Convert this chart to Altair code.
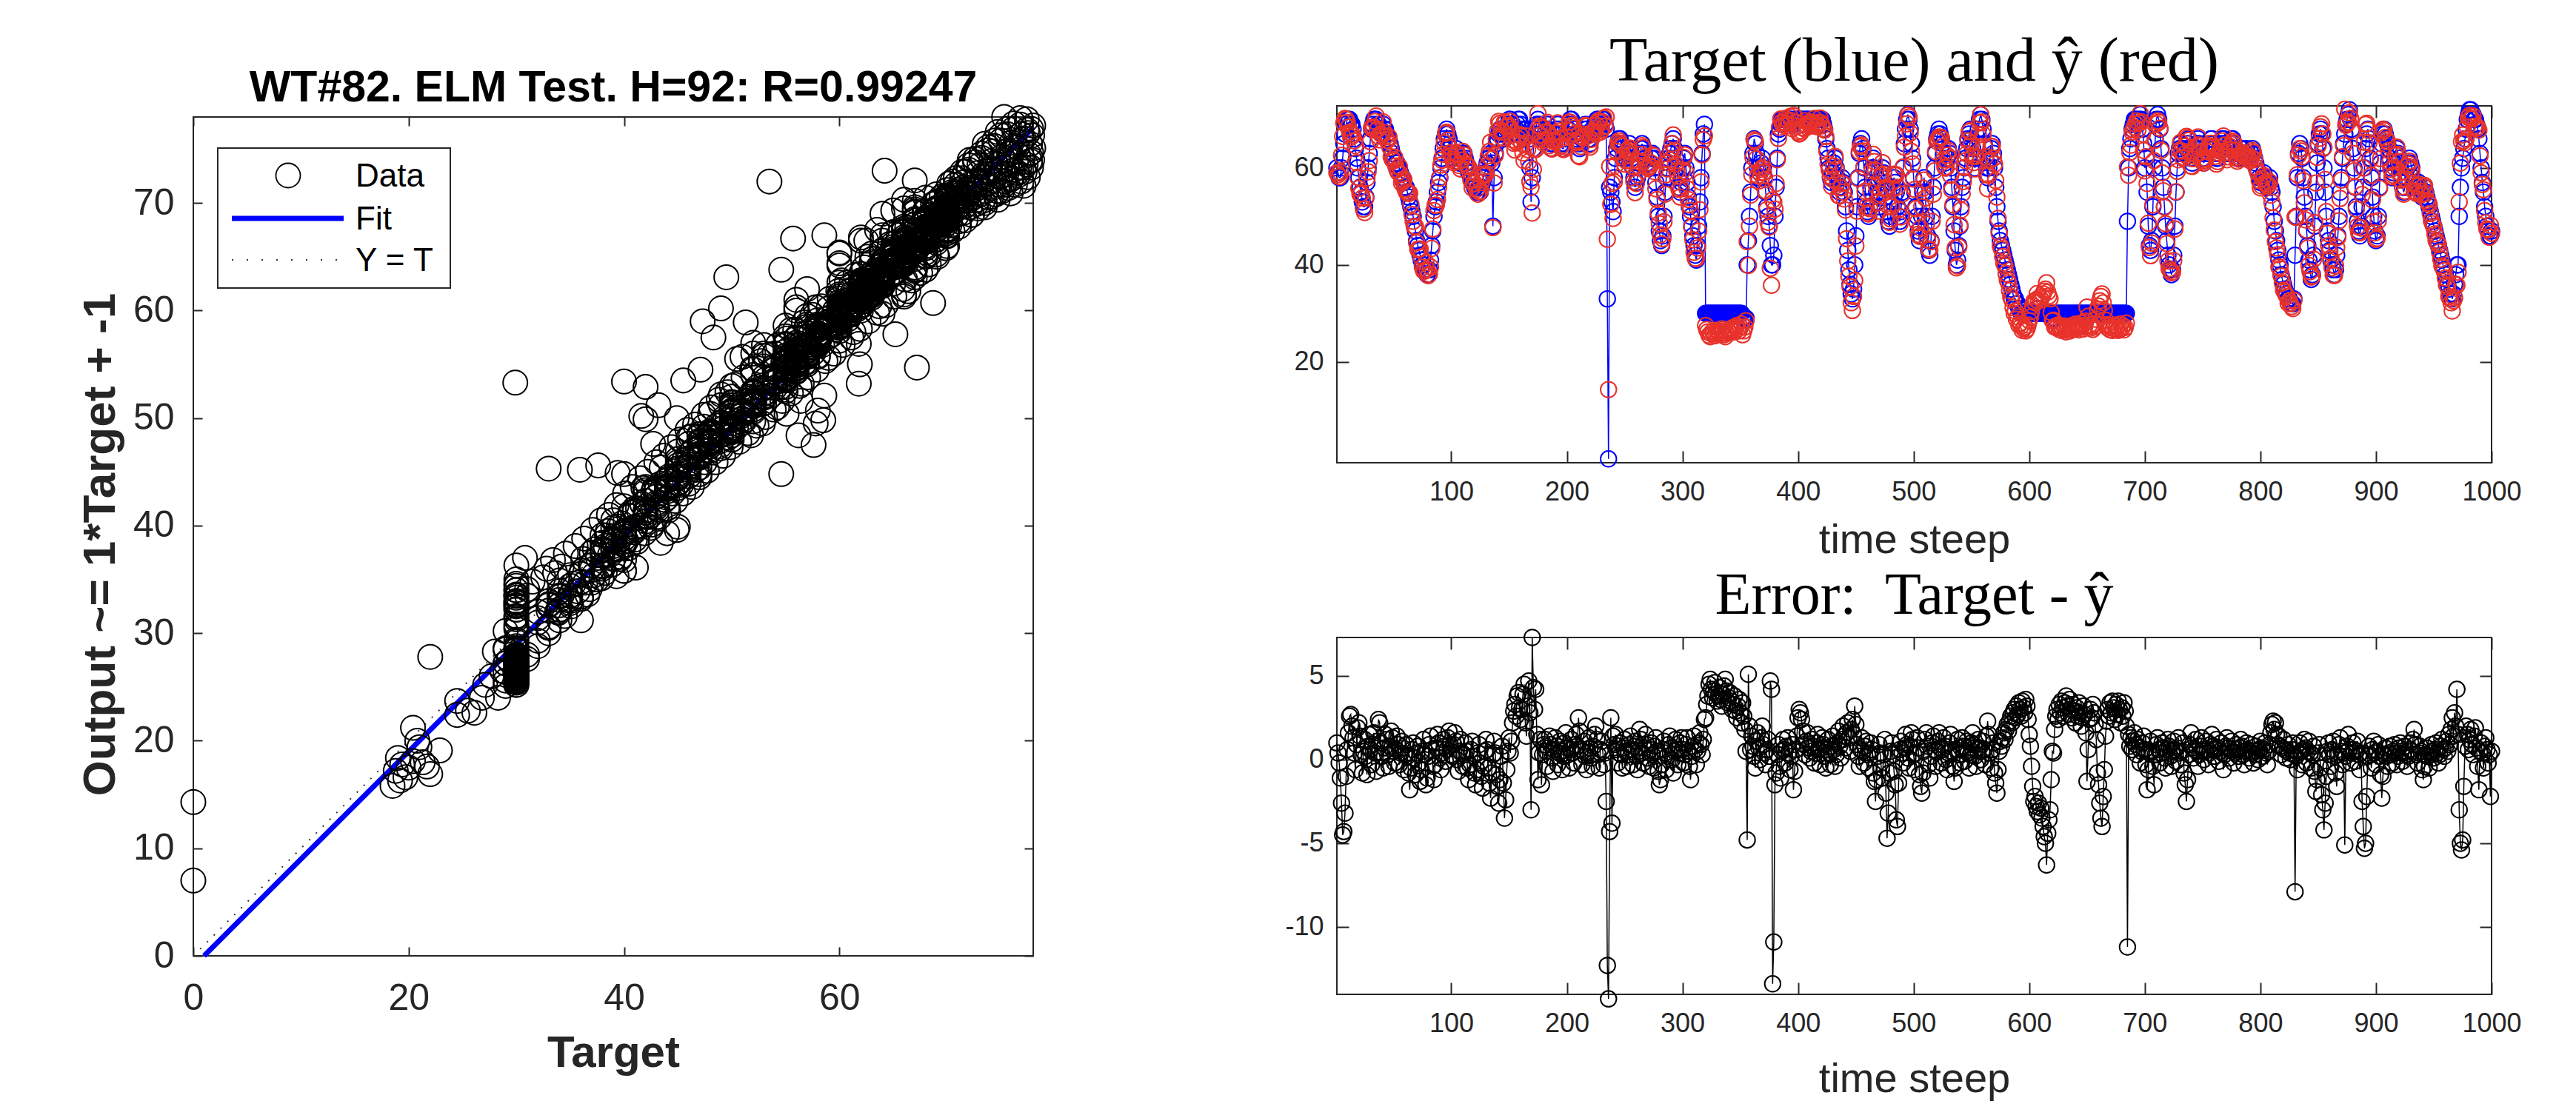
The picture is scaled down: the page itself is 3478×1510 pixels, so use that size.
import altair as alt
import pandas as pd

# ---------------- data ----------------
# Target value at each time step 1..1000 (blue series, top-right panel)
target = [
    60, 59, 58, 58, 60, 62, 65, 67, 69, 70,
    70, 70, 69, 69, 68, 66, 64, 62, 60, 58,
    56, 55, 53, 52, 52, 54, 57, 60, 63, 66,
    68, 69, 70, 70, 70, 69, 69, 68, 68, 67,
    69, 68, 68, 67, 66, 66, 65, 64, 63, 62,
    62, 61, 61, 60, 60, 59, 58, 58, 57, 56,
    56, 55, 54, 53, 52, 51, 50, 48, 47, 45,
    44, 43, 42, 41, 40, 40, 39, 39, 38, 38,
    39, 41, 44, 47, 50, 52, 53, 55, 57, 58,
    60, 62, 64, 66, 67, 68, 67, 66, 64, 63,
    62, 62, 63, 64, 63, 62, 61, 61, 62, 63,
    63, 62, 61, 60, 59, 59, 58, 57, 57, 56,
    56, 55, 55, 56, 55, 56, 57, 58, 59, 60,
    61, 62, 62, 63, 61, 48, 58, 63, 65, 66,
    67, 68, 68, 67, 66, 66, 67, 68, 69, 70,
    70, 69, 68, 68, 67, 68, 69, 70, 70, 69,
    68, 67, 66, 67, 68, 67, 66, 60, 53, 58,
    64, 67, 68, 69, 70, 69, 68, 67, 66, 66,
    67, 68, 69, 68, 66, 65, 64, 65, 66, 67,
    68, 69, 68, 67, 65, 64, 64, 65, 66, 67,
    68, 69, 70, 70, 69, 68, 68, 67, 66, 65,
    64, 65, 66, 67, 68, 69, 68, 67, 66, 65,
    66, 67, 68, 69, 69, 70, 70, 69, 68, 69,
    70, 70, 69, 68, 33, 0, 56, 55, 53, 51,
    58, 62, 64, 65, 66, 66, 65, 64, 63, 62,
    62, 63, 64, 65, 64, 62, 60, 58, 56, 57,
    58, 61, 63, 64, 65, 64, 63, 62, 61, 60,
    60, 61, 62, 63, 62, 60, 57, 54, 50, 47,
    45, 44, 46, 50, 55, 58, 60, 62, 63, 64,
    65, 66, 64, 62, 60, 58, 56, 55, 57, 60,
    62, 63, 60, 57, 54, 52, 50, 48, 46, 44,
    42, 41, 44, 48, 53, 58, 63, 67, 69, 30,
    30, 30, 30, 30, 30, 30, 30, 30, 30, 30,
    30, 30, 30, 30, 30, 30, 30, 30, 30, 30,
    30, 30, 30, 30, 30, 30, 30, 30, 30, 30,
    30, 29, 29, 29, 29, 40, 45, 50, 55, 60,
    63, 66, 65, 63, 60, 58, 59, 61, 62, 60,
    58, 55, 52, 50, 48, 44, 40, 40, 42, 50,
    56, 62, 67, 68, 69, 70, 70, 70, 70, 70,
    70, 70, 70, 70, 69, 69, 70, 70, 70, 70,
    70, 70, 70, 70, 69, 70, 70, 70, 70, 69,
    70, 70, 70, 70, 69, 70, 70, 70, 70, 70,
    70, 69, 68, 66, 64, 62, 60, 58, 57, 59,
    61, 62, 60, 58, 56, 55, 56, 58, 57, 55,
    52, 47, 43, 39, 36, 34, 33, 35, 40, 46,
    52, 58, 63, 65, 66, 64, 60, 56, 53, 51,
    50, 52, 56, 60, 62, 60, 57, 55, 53, 52,
    55, 58, 60, 59, 57, 54, 51, 49, 48, 50,
    53, 56, 58, 57, 55, 52, 50, 49, 51, 55,
    60, 65, 68, 70, 71, 70, 68, 65, 62, 58,
    55, 52, 50, 47, 45, 46, 50, 55, 58, 55,
    50, 46, 43, 42, 45, 50, 56, 60, 63, 66,
    67, 68, 67, 66, 65, 63, 61, 60, 62, 64,
    63, 60, 56, 52, 47, 43, 40, 41, 44, 48,
    52, 56, 58, 60, 62, 64, 66, 67, 68, 66,
    64, 62, 60, 62, 65, 68, 70, 71, 70, 68,
    65, 62, 60, 58, 60, 62, 64, 65, 63, 60,
    56, 52, 49, 47, 45, 44, 43, 42, 41, 40,
    39, 38, 37, 36, 35, 34, 33, 33, 32, 32,
    31, 31, 30, 30, 30, 30, 30, 30, 30, 30,
    30, 30, 30, 30, 30, 30, 31, 30, 30, 30,
    30, 30, 30, 30, 30, 30, 30, 30, 29, 29,
    29, 29, 30, 30, 30, 30, 30, 30, 30, 30,
    30, 30, 30, 30, 30, 30, 30, 30, 30, 30,
    30, 30, 30, 30, 30, 30, 30, 30, 30, 30,
    30, 30, 30, 30, 30, 30, 30, 30, 30, 30,
    30, 30, 30, 30, 30, 30, 30, 30, 30, 30,
    30, 30, 30, 30, 30, 30, 30, 30, 30, 30,
    30, 30, 30, 30, 49, 60, 64, 66, 68, 69,
    70, 70, 70, 69, 70, 71, 70, 68, 65, 60,
    62, 55, 48, 44, 43, 45, 52, 60, 66, 70,
    71, 70, 68, 64, 60, 56, 52, 48, 45, 42,
    40, 39, 38, 39, 42, 48, 55, 60, 63, 64,
    65, 64, 63, 62, 63, 64, 65, 66, 64, 62,
    61, 62, 63, 64, 65, 66, 65, 64, 63, 62,
    61, 62, 63, 64, 64, 65, 66, 66, 65, 64,
    63, 62, 62, 63, 64, 65, 66, 66, 65, 64,
    63, 63, 64, 65, 66, 66, 65, 64, 63, 62,
    62, 63, 64, 64, 63, 62, 63, 64, 63, 62,
    62, 63, 64, 63, 62, 61, 60, 59, 58, 57,
    57, 58, 59, 58, 57, 56, 57, 58, 56, 55,
    52, 49, 47, 45, 43, 41, 40, 38, 37, 36,
    35, 34, 34, 33, 33, 32, 32, 32, 33, 42,
    50, 58, 63, 65, 64, 62, 58, 54, 50, 47,
    44, 41, 39, 37, 38, 42, 48, 55, 61, 65,
    67, 68, 67, 64, 60, 55, 50, 47, 45, 43,
    41, 40, 39, 38, 39, 42, 46, 50, 55, 58,
    62, 65, 67, 69, 70, 71, 72, 70, 68, 64,
    60, 56, 52, 49, 47, 46, 48, 52, 56, 60,
    64, 67, 68, 66, 62, 58, 54, 50, 47, 45,
    46, 50, 56, 61, 65, 67, 68, 67, 66, 65,
    64, 62, 60, 58, 59, 61, 63, 64, 63, 62,
    60, 58, 56, 55, 56, 58, 60, 61, 62, 61,
    60, 58, 57, 56, 55, 56, 57, 56, 55, 54,
    55, 56, 55, 54, 53, 52, 51, 50, 49, 48,
    47, 46, 45, 44, 43, 42, 41, 40, 39, 38,
    37, 36, 35, 34, 34, 33, 34, 36, 38, 40,
    40, 50, 56, 60, 62, 64, 66, 68, 70, 71,
    72, 72, 71, 71, 70, 70, 69, 68, 66, 63,
    60, 57, 55, 52, 50, 48, 47, 46, 46, 47,
]

# Error (Target - y_hat) at each time step 1..1000 (bottom-right panel)
error = [
    1.0, 0.4, -0.2, -1.1, -2.6, -4.5, -4.3, -3.2, -1.0, 0.6,
    1.6, 2.6, 2.7, 2.0, 1.3, 0.4, -0.6, 0.9, 1.9, 2.2,
    1.4, 0.3, -0.8, 0.5, 1.2, 0.2, -0.9, 0.8, 1.5, 0.6,
    -0.3, 0.9, 1.6, 0.4, -0.7, 1.1, 2.4, 2.2, 1.0, 0.2,
    -0.5, 0.7, 1.5, 1.2, 0.3, -0.4, 0.8, 1.7, 1.3, 0.5,
    -0.2, 0.6, 1.4, 0.9, -0.3, 0.4, 1.1, 0.7, -0.6, 0.3,
    0.9, 0.2, -0.8, -1.8, -0.5, 0.6, 1.0, 0.1, -0.9, 0.4,
    0.8, -0.2, -1.3, -0.6, 0.5, 1.2, 0.3, -1.5, -1.1, 0.2,
    0.9, 1.4, 0.6, -0.4, -1.2, -0.3, 0.7, 1.5, 1.0, 0.1,
    -0.6, 0.4, 1.2, 0.8, -0.1, 0.6, 1.3, 1.7, 0.9, 0.3,
    0.2, 0.9, 1.6, 1.1, 0.0, -0.7, 0.5, 1.2, 0.4, -0.4,
    0.3, 1.0, 0.5, -0.5, -1.2, -0.3, 0.6, 1.1, 0.2, -0.8,
    -1.5, -0.6, 0.4, 0.9, -0.2, -1.0, -1.7, -0.4, 0.5, 1.2,
    0.6, -0.5, -1.4, -2.3, -0.8, 0.3, 1.1, 0.4, -0.9, -1.6,
    -2.6, -1.2, 0.2, 0.8, -1.4, -3.5, -2.4, -0.6, 0.5, 1.3,
    0.4, 1.1, 2.2, 2.9, 3.3, 2.6, 3.8, 4.0, 3.1, 2.4,
    3.0, 3.9, 4.5, 2.2, 1.4, 3.2, 4.7, 2.8, -3.0, 7.3,
    4.3, 3.0, 4.2, 1.5, -1.2, 0.4, 1.2, -1.5, 0.3, 0.9,
    1.2, 0.5, -0.4, 0.7, 1.4, 0.9, 0.1, -0.7, 0.6, 1.3,
    0.8, -0.3, 0.4, 1.1, 0.5, -0.6, 0.2, 1.0, 1.6, 0.7,
    0.3, -0.5, 0.6, 1.2, 0.4, -0.2, 0.9, 1.5, 0.8, 2.5,
    1.7, 0.6, -0.3, 0.5, 1.1, 0.2, -0.6, 0.4, 1.3, 0.7,
    0.1, -0.4, 0.8, 1.5, 2.0, 1.2, 0.3, -0.5, 0.6, 1.1,
    0.5, -0.3, 0.4, -2.5, -12.3, -14.3, -4.3, 2.5, -3.8, 1.4,
    0.9, 1.5, 0.6, -0.2, 0.4, 1.0, 0.3, -0.5, 0.7, 1.2,
    0.5, -0.4, 0.3, 0.9, 1.4, 0.6, -0.3, 0.8, 1.1, 0.2,
    -0.6, 0.5, 1.8, 1.2, 0.4, -0.2, 0.7, 1.5, 0.9, 0.1,
    -0.4, 0.6, 1.0, 0.3, -0.5, 0.8, 1.3, 0.5, -0.7, -1.5,
    -1.2, -0.3, 0.6, 1.1, 0.4, -0.6, 0.2, 0.9, 1.4, 0.7,
    0.0, -0.8, 0.5, 1.2, 0.6, -0.3, 0.4, 1.0, 1.3, 0.6,
    -0.2, 0.3, 0.9, 1.3, 0.5, -0.4, -1.2, 0.2, 0.8, 1.4,
    0.6, -0.3, 0.5, 1.0, 1.6, 0.9, 0.3, 1.2, 2.4, 2.5,
    3.3, 3.8, 4.5, 4.8, 4.2, 3.7, 4.1, 4.6, 3.9, 3.5,
    3.8, 4.3, 3.6, 3.2, 3.9, 4.4, 4.8, 4.1, 3.4, 3.7,
    4.0, 3.5, 3.0, 3.3, 3.8, 2.9, 2.5, 3.2, 3.6, 2.8,
    2.2, 3.4, 2.6, 1.8, 0.5, -4.8, 5.1, 2.0, 0.6, 1.4,
    0.8, 0.2, -0.5, 1.1, 1.6, 0.7, 0.0, 1.3, 2.0, 0.9,
    0.4, -0.3, 0.6, 1.2, 0.2, 4.7, 4.2, -13.4, -10.9, -1.5,
    -0.8, 0.3, 0.9, -0.4, -1.1, 0.5, 1.2, 0.6, -0.2, 0.8,
    1.3, 0.4, -0.6, 0.2, 0.9, -1.8, -0.7, 0.6, 1.4, 2.5,
    3.0, 2.8, 2.4, 1.7, 0.9, 0.3, 1.1, 1.6, 0.7, 0.1,
    0.5, 1.2, 0.8, -0.2, 0.4, 1.0, 1.5, 0.6, -0.3, 0.7,
    1.3, 0.9, 0.2, -0.5, 0.6, 1.2, 0.4, -0.3, 0.8, 1.4,
    0.6, -0.4, 0.3, 1.0, 1.7, 0.8, 0.1, 1.2, 2.0, 1.4,
    0.7, 1.6, 2.2, 1.3, 0.5, 1.8, 2.4, 1.5, 3.2, 2.1,
    0.9, 0.2, -0.4, 0.6, 1.3, 0.5, -0.2, 0.8, 1.1, 0.3,
    -0.5, 0.4, 1.0, 0.6, -0.8, -1.3, -2.5, -1.2, 0.2, 0.9,
    0.4, -0.5, -1.1, 0.3, 1.2, -2.0, -4.7, -3.2, -0.8, 0.5,
    1.0, 0.3, -0.7, -1.5, -3.6, -4.0, -1.4, 0.6, 1.1, 0.4,
    -0.2, 0.7, 1.5, 0.9, 0.1, -0.5, 0.8, 1.6, 1.2, 0.3,
    -0.6, 0.4, 1.3, 0.7, -0.9, -1.6, -2.0, -0.8, 0.5, 1.2,
    1.6, 0.8, -0.3, -1.1, 0.2, 1.0, 1.4, 0.6, -0.4, 0.5,
    1.1, 1.6, 0.7, -0.2, 0.6, 1.3, 0.8, 0.0, -0.6, 0.4,
    1.0, 1.5, 0.5, -0.4, -1.3, -0.5, 0.6, 1.2, 0.3, -0.2,
    0.7, 1.3, 0.8, -0.1, 0.5, 1.1, 0.4, -0.5, 0.3, 1.0,
    1.6, 0.9, 0.2, -0.4, 0.6, 1.2, 0.7, 0.0, 0.5, 1.1,
    0.6, -0.3, 1.4, 2.3, 1.5, 0.4, -0.5, 0.6, 1.0, -0.8,
    -1.4, -2.0, -0.6, 0.5, 1.1, 0.8, 1.3, 1.6, 1.2, 1.8,
    2.1, 1.7, 2.3, 2.6, 2.2, 2.8, 3.0, 2.5, 3.2, 2.7,
    3.4, 3.0, 2.6, 3.5, 3.1, 2.8, 3.6, 3.2, 2.4, 1.5,
    0.8, -0.4, -1.6, -2.5, -2.2, -2.8, -3.1, -2.6, -3.3, -2.9,
    -3.5, -4.0, -4.6, -5.0, -6.3, -4.4, -3.6, -3.0, -1.2, 0.5,
    0.4, 1.8, 2.6, 3.0, 2.4, 3.3, 2.8, 3.5, 3.1, 2.6,
    3.4, 3.8, 3.2, 2.7, 3.6, 3.0, 2.5, 3.3, 2.9, 2.2,
    3.1, 2.6, 3.4, 2.8, 2.0, 2.5, 3.2, 2.7, 1.6, -1.3,
    0.6, 2.4, 3.0, 2.5, 3.3, 2.8, 2.1, 1.2, -0.8, -1.5,
    -2.6, -3.5, -4.0, -2.2, -0.6, 1.4, 2.3, 3.0, 2.6, 3.4,
    2.8, 3.5, 3.1, 2.4, 3.3, 2.7, 3.5, 3.0, 2.2, 3.1,
    2.6, 3.4, 2.9, 2.0, -11.2, 1.5, 0.8, 1.3, 0.6, 1.1,
    1.6, 0.9, 0.3, 1.2, 0.7, -0.2, 0.5, 1.0, 1.4, 0.6,
    -0.3, -1.8, -0.6, 0.4, 1.1, 0.5, -0.4, -1.5, 0.3, 0.9,
    1.3, 0.6, -0.2, 0.4, 1.0, 0.7, 0.1, -0.5, 0.6, 1.2,
    0.8, 0.2, -0.4, 0.5, 1.1, 0.6, -0.1, 0.7, 1.3, 0.4,
    -0.3, 0.5, 1.0, -0.8, -1.5, -2.5, -1.2, 0.3, 0.9, 1.6,
    0.7, 0.1, 0.6, 1.2, 0.5, -0.4, 0.3, 0.8, 1.3, 0.6,
    0.0, 0.5, 1.1, 0.6, -0.3, 0.4, 0.9, 1.5, 0.8, 0.2,
    0.6, 1.2, 0.7, -0.1, 0.5, 1.0, 0.4, -0.6, 0.3, 0.8,
    1.3, 0.7, 0.1, 0.6, 1.1, 0.5, -0.2, 0.4, 0.9, 0.6,
    0.2, 0.7, 1.2, 0.8, 0.3, -0.3, 0.5, 1.0, 0.6, 0.1,
    0.5, 0.9, 0.4, -0.2, 0.3, 0.8, 0.5, 0.0, 0.6, 1.1,
    0.7, 0.2, 0.6, 1.0, 0.4, -0.3, 0.5, 0.9, 1.6, 2.1,
    2.3, 1.8, 2.2, 1.5, 0.9, 1.4, 0.8, 0.3, 0.7, 1.2,
    0.6, 0.1, 0.5, 0.9, 0.4, 0.0, 0.6, 1.0, 0.3, -7.9,
    0.2, -0.6, 0.4, 1.0, 0.5, -0.3, 0.6, 1.2, 0.7, -0.2,
    0.5, 1.1, 0.4, -0.5, 0.3, 0.8, -0.7, -1.9, -1.2, 0.4,
    0.9, -0.5, -2.1, -3.0, -4.2, -2.6, -1.0, 0.5, 1.0, 0.3,
    -0.4, 0.6, 1.1, 0.2, -0.8, -1.6, 0.3, 0.9, 1.3, 0.5,
    -0.3, 0.4, -5.1, 0.2, 0.8, 1.5, 0.6, -0.2, 0.4, 1.0,
    0.6, -0.1, 0.5, 1.1, 0.3, -0.6, 0.4, -2.5, -4.0, -5.3,
    -5.0, -2.2, 0.2, 0.8, 0.3, -0.5, 0.6, 1.1, 0.4, -0.3,
    0.5, 0.9, 0.2, -0.9, -2.3, -1.0, 0.3, 0.7, 0.2, -0.4,
    0.4, 0.8, 0.3, -0.2, 0.5, 0.9, 0.4, -0.3, 0.2, 0.7,
    1.0, 0.5, -0.1, 0.4, 0.8, 0.3, -0.4, 0.2, 0.6, 1.0,
    0.5, 1.2, 1.8, 0.9, 0.3, -0.2, 0.4, 0.8, 0.5, -0.6,
    -1.2, -0.4, 0.3, 0.7, 0.2, -0.5, 0.4, 0.9, 0.5, 0.1,
    0.6, 1.0, 0.4, -0.2, 0.3, 0.8, 1.2, 0.6, 0.2, 0.7,
    1.1, 0.5, 1.5, 0.9, 1.8, 2.5, 1.4, 2.8, 2.0, 4.2,
    1.5, -3.0, -5.0, -5.4, -4.8, -1.6, 0.8, 2.0, 1.5, 0.6,
    1.2, 1.8, 0.9, 0.3, 1.4, 1.9, 0.7, -0.4, -1.8, 0.5,
    1.0, 0.4, -0.5, 0.8, 1.3, 0.6, -0.2, 0.3, -2.2, 0.5,
]

# Further test samples visible only in the regression scatter: (target, output)
extra_outliers = [
    (0.0, 7.0), (29.9, 53.3), (22.0, 27.8), (35.9, 45.2), (53.5, 72.0), (64.2, 73.0),
    (49.5, 63.1), (55.7, 66.7), (58.6, 67.0), (54.6, 63.8), (47.3, 59.0), (48.3, 57.5),
    (51.3, 58.9), (45.5, 53.5), (47.1, 54.5), (41.6, 50.2), (43.2, 51.2), (44.9, 50.0),
    (42.7, 47.6), (37.6, 45.6), (39.4, 44.9), (67.2, 54.7), (68.7, 60.7), (66.4, 61.8),
    (65.2, 57.8), (54.6, 44.8), (57.6, 47.5), (56.2, 48.4), (58.5, 49.8), (57.8, 49.5),
    (58.6, 52.1), (61.8, 53.2), (61.9, 55.0), (61.8, 56.9), (56.4, 51.6), (52.9, 49.5),
    (55.1, 50.4), (44.9, 39.6), (43.4, 38.4), (41.1, 36.1), (39.3, 35.3), (36.0, 31.2),
    (33.6, 35.6), (32.8, 36.0), (30.8, 37.0), (62.5, 66.5), (60.0, 64.4), (57.0, 62.0),
    (52.0, 57.0), (50.5, 55.5), (63.5, 67.5), (66.0, 70.3),
]
extra_low = [
    (18.5, 15.8), (18.8, 17.2), (19.0, 18.4), (19.4, 17.8), (19.7, 16.6), (20.0, 17.5),
    (20.4, 18.1), (20.4, 21.2), (21.0, 19.4), (21.3, 18.0), (21.7, 17.6), (22.0, 16.9),
    (22.9, 19.1), (19.2, 16.3), (20.8, 20.0), (24.5, 23.7), (24.5, 22.4), (25.5, 22.8),
    (26.1, 22.6), (27.1, 25.2), (26.8, 24.0), (28.3, 24.0), (28.0, 28.3), (28.7, 26.5),
    (29.3, 27.5), (27.7, 26.0), (29.0, 25.1), (31.0, 33.5), (31.5, 34.8), (32.5, 35.2),
    (33.0, 33.0), (33.8, 32.0), (34.5, 31.6), (35.0, 33.0), (34.2, 36.2),
]
extra_mid = [
    (34.2, 33.5), (34.8, 33.1), (35.3, 34.6), (35.7, 33.9), (36.1, 35.8), (36.4, 34.7),
    (36.9, 36.3), (37.2, 35.4), (37.6, 37.0), (38.0, 36.2), (38.3, 38.1), (38.7, 37.3),
    (39.1, 39.0), (39.4, 37.8), (39.8, 40.2), (40.2, 38.6), (40.5, 40.9), (40.9, 39.4),
    (41.3, 41.6), (41.6, 40.0), (42.0, 42.3), (42.3, 40.8), (42.7, 43.1), (43.1, 41.5),
    (43.4, 43.9), (43.8, 42.4), (44.2, 44.6), (44.5, 43.0), (44.9, 45.3), (45.3, 43.8),
    (45.6, 46.1), (46.0, 44.6), (46.4, 47.0), (46.7, 45.2), (47.1, 47.8), (47.5, 45.9),
    (47.8, 48.5), (48.2, 46.8), (48.6, 49.3), (48.9, 47.4), (49.3, 50.0), (49.7, 48.2),
    (50.0, 50.6), (38.5, 39.5), (40.0, 41.8), (41.8, 43.5), (43.5, 45.4), (45.0, 46.9),
    (46.2, 48.3), (47.4, 49.2), (44.0, 41.6), (42.5, 39.8), (41.0, 38.7), (39.6, 36.9),
    (37.9, 35.1), (36.6, 33.6), (48.0, 50.4), (49.0, 51.2),
    (50.4, 49.1), (50.8, 51.3), (51.2, 49.8), (51.6, 52.0), (52.0, 50.6), (52.4, 52.9),
    (52.8, 51.3), (53.2, 53.6), (53.6, 52.1), (54.0, 54.5), (54.4, 52.8), (54.8, 55.2),
    (55.2, 53.7), (55.6, 56.0), (56.0, 54.4), (56.4, 56.9), (56.8, 55.2), (57.2, 57.6),
    (57.6, 56.1), (58.0, 58.5), (58.4, 56.8), (58.8, 59.2), (59.2, 57.7), (59.6, 60.0),
    (60.0, 58.5), (60.4, 60.9), (60.8, 59.2), (61.2, 61.6), (61.6, 60.1), (62.0, 62.4),
    (62.4, 60.9), (62.8, 63.3), (63.2, 61.7), (63.6, 64.0), (64.0, 62.5), (64.4, 64.9),
    (64.8, 63.3), (65.2, 65.6), (65.6, 64.1), (66.0, 66.4), (66.4, 64.9), (66.8, 67.3),
    (67.2, 65.7), (67.6, 68.0), (68.0, 66.5), (68.4, 68.9), (68.8, 67.3), (69.2, 69.6),
    (69.6, 68.1), (53.0, 55.8), (55.5, 58.2), (57.8, 60.3), (60.2, 62.8), (62.6, 65.0),
    (64.9, 67.2), (56.5, 53.2), (59.0, 55.6), (61.3, 58.0), (63.7, 60.4), (66.1, 62.9),
    (68.3, 65.2), (51.8, 48.4), (54.2, 51.0),
]
extra_wide = [
    (33.4, 36.8), (33.9, 31.9), (34.6, 37.4), (35.1, 32.5), (35.5, 38.1), (36.0, 33.2),
    (36.3, 38.8), (36.8, 34.1), (37.1, 39.6), (37.5, 35.0), (37.9, 40.5), (38.2, 35.6),
    (38.6, 41.0), (38.9, 36.4), (39.3, 41.9), (39.7, 37.1), (40.1, 43.0), (40.4, 37.9),
    (40.8, 43.6), (41.2, 38.5), (41.5, 44.4), (41.9, 39.3), (42.2, 45.0), (42.6, 40.1),
    (43.0, 45.9), (43.3, 40.8), (43.7, 46.5), (44.1, 41.4), (44.4, 47.3), (44.8, 42.3),
    (45.2, 48.0), (45.5, 43.0), (45.9, 48.9), (46.3, 43.6), (46.6, 49.4), (47.0, 44.5),
    (47.4, 50.3), (47.7, 45.1), (48.1, 51.0), (48.5, 45.9), (48.8, 51.7), (49.2, 46.5),
    (49.6, 52.4), (49.9, 47.3),
    (34.0, 34.9), (35.0, 35.4), (36.2, 36.9), (37.3, 37.8), (38.4, 39.1), (39.5, 39.9),
    (40.6, 41.2), (41.7, 42.0), (42.8, 43.4), (43.9, 44.2), (45.0, 45.6), (46.1, 46.3),
    (47.2, 47.9), (48.3, 48.6), (49.4, 49.8),
    (50.3, 53.1), (50.7, 47.8), (51.1, 53.8), (51.5, 48.6), (51.9, 54.6), (52.3, 49.3),
    (52.7, 55.3), (53.1, 50.1), (53.5, 55.9), (53.9, 50.8), (54.3, 56.8), (54.7, 51.6),
    (55.1, 57.4), (55.5, 52.3), (55.9, 58.2), (56.3, 53.0), (56.7, 58.9), (57.1, 53.8),
    (57.5, 59.6), (57.9, 54.5), (58.3, 60.4), (58.7, 55.3), (59.1, 61.1), (59.5, 56.0),
    (59.9, 61.8), (60.3, 56.8), (60.7, 62.6), (61.1, 57.5), (61.5, 63.3), (61.9, 58.3),
    (62.3, 64.0), (62.7, 59.0), (63.1, 64.8), (63.5, 59.8), (63.9, 65.5), (64.3, 60.5),
    (64.7, 66.2), (65.1, 61.3), (65.5, 67.0), (65.9, 62.0), (66.3, 67.7), (66.7, 62.8),
    (67.1, 68.4), (67.5, 63.5), (67.9, 69.2), (68.3, 64.3), (68.7, 69.9), (69.1, 65.0),
    (69.5, 70.6), (69.9, 65.8),
    (50.9, 50.2), (52.1, 51.5), (53.3, 52.4), (54.5, 53.9), (55.7, 54.8), (56.9, 56.3),
    (58.1, 57.2), (59.3, 58.6), (60.5, 59.5), (61.7, 61.0), (62.9, 61.9), (64.1, 63.4),
    (65.3, 64.3), (66.5, 65.8), (67.7, 66.7), (68.9, 68.2),
]
extra_high = [
    (70.0, 69.2), (70.1, 70.4), (70.3, 68.6), (70.4, 71.0), (70.6, 69.5), (70.7, 70.0),
    (70.9, 68.9), (71.0, 71.2), (71.2, 69.8), (71.3, 70.6), (71.5, 69.1), (71.6, 71.5),
    (71.8, 70.2), (71.9, 70.9), (72.1, 69.6), (72.2, 71.8), (72.4, 70.5), (72.5, 71.2),
    (72.7, 69.9), (72.8, 72.1), (73.0, 70.8), (73.1, 71.5), (73.3, 70.2), (73.4, 72.4),
    (73.6, 71.1), (73.7, 71.8), (73.9, 70.5), (74.0, 72.7), (74.2, 71.4), (74.3, 72.1),
    (74.5, 70.8), (74.6, 73.0), (74.8, 71.7), (74.9, 72.4), (75.1, 71.1), (75.2, 73.3),
    (75.4, 72.0), (75.5, 72.7), (75.7, 71.4), (75.8, 73.6), (76.0, 72.3), (76.1, 73.0),
    (76.3, 71.7), (76.4, 73.9), (76.6, 72.6), (76.7, 73.3), (76.9, 72.0), (77.0, 74.2),
    (77.2, 72.9), (77.3, 73.6), (77.5, 72.4), (77.6, 74.5), (77.8, 73.3), (77.9, 74.0),
    (71.4, 72.3), (72.0, 73.1), (72.6, 73.8), (73.2, 74.2), (73.8, 74.9), (74.4, 75.3),
    (75.0, 75.8), (75.6, 76.4), (76.2, 76.9), (76.8, 77.3), (77.4, 77.8), (75.3, 78.0),
    (74.7, 76.6), (73.5, 75.5), (76.5, 75.2), (77.1, 76.0), (77.7, 75.5), (75.9, 74.6),
    (74.1, 73.9), (72.9, 72.8), (71.7, 72.9), (70.8, 71.7), (70.2, 67.9), (71.1, 68.3),
    (72.3, 68.9), (73.5, 69.6), (74.7, 70.3), (75.9, 70.9), (77.1, 71.6), (76.0, 75.6),
    (76.9, 76.4), (77.8, 76.9), (74.3, 74.8), (73.0, 73.5), (71.5, 71.9), (70.5, 72.0),
    (72.1, 74.0), (78.0, 75.1), (77.9, 76.3), (76.6, 74.4), (75.2, 74.0), (74.0, 73.2),
    (72.8, 70.3), (71.6, 69.7), (70.9, 69.6),
    (70.2, 71.8), (70.5, 67.4), (70.8, 72.3), (71.1, 67.8), (71.4, 72.9), (71.7, 68.4),
    (72.0, 73.5), (72.3, 68.9), (72.6, 74.1), (72.9, 69.5), (73.2, 74.6), (73.5, 70.0),
    (73.8, 75.2), (74.1, 70.6), (74.4, 75.8), (74.7, 71.1), (75.0, 76.3), (75.3, 71.7),
    (75.6, 76.9), (75.9, 72.2), (76.2, 77.4), (76.5, 72.8), (76.8, 77.9), (77.1, 73.3),
    (77.4, 76.8), (77.7, 73.9), (78.0, 77.2),
    (70.3, 69.9), (70.9, 70.5), (71.5, 70.7), (72.1, 71.4), (72.7, 72.0), (73.3, 72.6),
    (73.9, 73.0), (74.5, 73.7), (75.1, 74.3), (75.7, 74.9), (76.3, 75.3), (76.9, 75.9),
    (77.5, 76.5), (77.8, 74.7),
]

left_title = "WT#82. ELM Test. H=92: R=0.99247"
left_x_title = "Target"
left_y_title = "Output ~= 1*Target + -1"
fit_slope, fit_intercept = 1, -1
fit_target_range = [1, 78]
identity_range = [0, 78]
left_domain = [0, 78]
left_x_ticks = [0, 20, 40, 60]
left_y_ticks = [0, 10, 20, 30, 40, 50, 60, 70]
legend_labels = ["Data", "Fit", "Y = T"]

top_title = "Target (blue) and \u0177 (red)"
err_title = "Error:\u00a0 Target - \u0177"
time_title = "time steep"
time_domain = [1, 1000]
time_ticks = [100, 200, 300, 400, 500, 600, 700, 800, 900, 1000]
top_domain = [-0.8, 72.8]
top_y_ticks = [20, 40, 60]
err_domain = [-14.03, 7.3]
err_y_ticks = [-10, -5, 0, 5]

# ---------------- tables ----------------
steps = list(range(1, len(target) + 1))
yhat = [round(a - e, 2) for a, e in zip(target, error)]
ts = pd.DataFrame({"step": steps, "target": target, "yhat": yhat, "error": error})

extras = extra_outliers + extra_low + extra_mid + extra_wide + extra_high
scatter_df = pd.DataFrame({
    "target": list(target) + [p[0] for p in extras],
    "output": list(yhat) + [p[1] for p in extras],
})
fit_df = pd.DataFrame({"target": fit_target_range,
                       "output": [fit_slope * v + fit_intercept for v in fit_target_range]})
ident_df = pd.DataFrame({"target": identity_range, "output": identity_range})

# ---------------- styling ----------------
FONT = "Liberation Sans"
SERIF = "Liberation Serif"
INK = "#262626"
BLUE = "#0000FF"
RED = "#E8322B"
LW, LH = 1134, 1133
RW, RH = 1559, 482
PLAIN = "toString(datum.value)"


def inner_axis(orient, values, size, labels=True, **kw):
    return alt.Axis(orient=orient, values=values, offset=-size, tickSize=size,
                    domain=False, grid=False, labels=labels, tickColor=INK,
                    tickWidth=2, labelFont=FONT, labelColor=INK, labelFlush=False,
                    labelOverlap=False, labelExpr=PLAIN, **kw)


def title_mark(text, width, dy, font, size, weight):
    return alt.Chart(pd.DataFrame({"label": [text]})).mark_text(
        align="center", baseline="alphabetic", font=font, fontSize=size,
        fontWeight=weight, color="black").encode(
        x=alt.value(width / 2), y=alt.value(dy), text="label:N")


# ---------------- left: regression ----------------
sx = alt.Scale(domain=left_domain, nice=False, zero=False)
sy = alt.Scale(domain=left_domain, nice=False, zero=False)

fit = alt.Chart(fit_df).mark_line(color=BLUE, strokeWidth=7).encode(
    x=alt.X("target:Q", scale=sx, axis=None),
    y=alt.Y("output:Q", scale=sy, axis=None),
)
ident = alt.Chart(ident_df).mark_line(color="#333333", strokeWidth=2, strokeDash=[2, 11]).encode(
    x=alt.X("target:Q", scale=sx, axis=inner_axis("top", left_x_ticks, 12, labels=False, title=None)),
    y=alt.Y("output:Q", scale=sy, axis=inner_axis("right", left_y_ticks, 12, labels=False, title=None)),
)
scatter = alt.Chart(scatter_df).mark_point(
    shape="circle", filled=False, size=1090, color="black", strokeWidth=2, opacity=1
).encode(
    x=alt.X("target:Q", scale=sx, axis=inner_axis(
        "bottom", left_x_ticks, 12, labelFontSize=50, labelPadding=32,
        title=left_x_title, titleFont=FONT, titleFontSize=60, titleFontWeight="bold",
        titleColor=INK, titleBaseline="alphabetic", titleY=161)),
    y=alt.Y("output:Q", scale=sy, axis=inner_axis(
        "left", left_y_ticks, 12, labelFontSize=50, labelPadding=26,
        title=left_y_title, titleFont=FONT, titleFontSize=62, titleFontWeight="bold",
        titleColor=INK, titleBaseline="middle", titleX=-138, titleY=577)),
)

leg_box = alt.Chart(pd.DataFrame({"k": [0]})).mark_rect(
    fill="white", stroke=INK, strokeWidth=2).encode(
    x=alt.value(33), x2=alt.value(347), y=alt.value(42), y2=alt.value(231))
leg_circle = alt.Chart(pd.DataFrame({"k": [0]})).mark_point(
    shape="circle", filled=False, size=1090, color="black", strokeWidth=1.8, opacity=1).encode(
    x=alt.value(128), y=alt.value(79))
leg_fit = alt.Chart(pd.DataFrame({"k": [0]})).mark_rule(color=BLUE, strokeWidth=7).encode(
    x=alt.value(52), x2=alt.value(203), y=alt.value(137))
leg_ident = alt.Chart(pd.DataFrame({"k": [0]})).mark_rule(
    color="#333333", strokeWidth=2, strokeDash=[2, 18]).encode(
    x=alt.value(52), x2=alt.value(203), y=alt.value(193))
leg_texts = [
    alt.Chart(pd.DataFrame({"label": [lab]})).mark_text(
        align="left", baseline="middle", font=FONT, fontSize=44, color="black").encode(
        x=alt.value(219), y=alt.value(yy), text="label:N")
    for lab, yy in zip(legend_labels, [81, 139, 195])
]
left_title_mark = title_mark(left_title, LW, -21, FONT, 59, "bold")

left_chart = alt.layer(
    fit, ident, scatter, leg_box, leg_circle, leg_fit, leg_ident, *leg_texts, left_title_mark
).resolve_axis(x="independent", y="independent").properties(width=LW, height=LH)

spacer = alt.Chart(pd.DataFrame({"v": [0]})).mark_point(opacity=0).encode(
    x=alt.X("v:Q", axis=None), y=alt.Y("v:Q", axis=None)
).properties(width=LW, height=1, view=alt.ViewBackground(stroke="transparent"))

left_col = alt.vconcat(spacer, left_chart, spacing=14, bounds="flush")

# ---------------- right: time series ----------------
tx = alt.Scale(domain=time_domain, nice=False, zero=False)
ty = alt.Scale(domain=top_domain, nice=False, zero=False)
ey = alt.Scale(domain=err_domain, nice=False, zero=False)


def bottom_time_axis(title_y):
    return inner_axis("bottom", time_ticks, 16, labelFontSize=36, labelPadding=22,
                      title=time_title, titleFont=FONT, titleFontSize=56,
                      titleFontWeight="normal", titleColor=INK,
                      titleBaseline="alphabetic", titleY=title_y)


blue_line = alt.Chart(ts).mark_line(color=BLUE, strokeWidth=1.5).encode(
    x=alt.X("step:Q", scale=tx, axis=None),
    y=alt.Y("target:Q", scale=ty, axis=None),
)
blue_pts = alt.Chart(ts).mark_point(
    shape="circle", filled=False, size=460, color=BLUE, strokeWidth=2, opacity=1
).encode(
    x=alt.X("step:Q", scale=tx, axis=bottom_time_axis(137)),
    y=alt.Y("target:Q", scale=ty, axis=inner_axis("left", top_y_ticks, 16, labelFontSize=36,
                                                   labelPadding=18, title=None)),
)
red_pts = alt.Chart(ts).mark_point(
    shape="circle", filled=False, size=460, color=RED, strokeWidth=2, opacity=1
).encode(
    x=alt.X("step:Q", scale=tx, axis=inner_axis("top", time_ticks, 16, labels=False, title=None)),
    y=alt.Y("yhat:Q", scale=ty, axis=inner_axis("right", top_y_ticks, 16, labels=False, title=None)),
)
top_chart = alt.layer(
    blue_line, blue_pts, red_pts, title_mark(top_title, RW, -34, SERIF, 84, "normal")
).resolve_axis(x="independent", y="independent").properties(width=RW, height=RH)

err_line = alt.Chart(ts).mark_line(color="black", strokeWidth=1.5).encode(
    x=alt.X("step:Q", scale=tx, axis=inner_axis("top", time_ticks, 16, labels=False, title=None)),
    y=alt.Y("error:Q", scale=ey, axis=inner_axis("right", err_y_ticks, 16, labels=False, title=None)),
)
err_pts = alt.Chart(ts).mark_point(
    shape="circle", filled=False, size=460, color="black", strokeWidth=2, opacity=1
).encode(
    x=alt.X("step:Q", scale=tx, axis=bottom_time_axis(147)),
    y=alt.Y("error:Q", scale=ey, axis=inner_axis("left", err_y_ticks, 16, labelFontSize=36,
                                                  labelPadding=18, title=None)),
)
err_chart = alt.layer(
    err_line, err_pts, title_mark(err_title, RW, -32, SERIF, 80, "normal")
).resolve_axis(x="independent", y="independent").properties(width=RW, height=RH)

right_col = alt.vconcat(top_chart, err_chart, spacing=236, bounds="flush")

# nested flush columns report no width, so the gap is measured from the left column's origin
chart = alt.hconcat(left_col, right_col, spacing=LW + 410, bounds="flush").properties(
    padding={"left": 95, "top": 33, "right": 5, "bottom": 5},
    background="white",
).configure_view(stroke=INK, strokeWidth=2)

chart.save("out.html", embed_options={"renderer": "svg", "actions": False})
